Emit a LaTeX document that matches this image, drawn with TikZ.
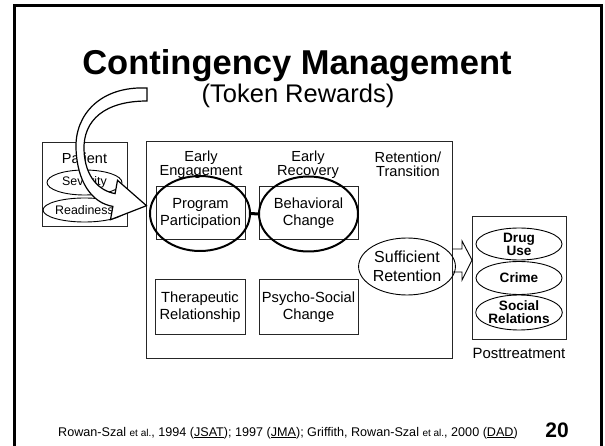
\documentclass[tikz,border=0pt]{standalone}
\usepackage{fontspec}
\setmainfont{Liberation Sans}
\usetikzlibrary{shapes.geometric}
\tikzset{
  panel/.style={draw=black!85, line width=1pt},
  head/.style={align=center, inner sep=0pt, font=\fontsize{14.6}{14}\selectfont},
  stagebox/.style={draw=black!85, line width=1pt, inner sep=0pt, align=center,
    minimum height=53pt, font=\fontsize{14.7}{17}\selectfont},
  ring/.style={ellipse, draw, line width=2pt, inner sep=0pt},
  oval/.style={ellipse, draw, line width=0.9pt, inner sep=0pt, align=center},
  outcome/.style={oval, minimum width=86pt, font=\bfseries\fontsize{13.6}{13}\selectfont},
}
\begin{document}
\begin{tikzpicture}[x=1pt,y=-1pt]
    \useasboundingbox (0,0) rectangle (605,446);
    \draw[line width=3pt] (14.5,448) -- (14.5,6) -- (601.5,6) -- (601.5,448);

    % title
    \node[font=\bfseries\fontsize{34.5}{40}\selectfont, anchor=base] (title) at (297,75) {Contingency Management};
    \node[font=\fontsize{25.5}{28}\selectfont, anchor=base] (subtitle) at (298,102.5) {(Token Rewards)};

    % patient
    \draw[panel] (42,143) rectangle (127,227);
    \node[head, font=\fontsize{14.5}{14}\selectfont] (patient) at (84.5,158) {Patient};
    \node[oval, minimum width=75pt, minimum height=25pt, font=\fontsize{12.4}{14}\selectfont] (severity) at (84.5,182.5) {Severity};
    \node[oval, minimum width=75pt, minimum height=24pt, font=\fontsize{12.4}{14}\selectfont] (readiness) at (84.5,210) {Readiness};

    % treatment stages
    \draw[panel] (146,142) rectangle (452,358);
    \node[head] (engage) at (201,164.5) {Early\\Engagement};
    \node[head] (recover) at (308,164.5) {Early\\Recovery};
    \node[head] (transit) at (408,164.5) {Retention/\\Transition};

    \node[stagebox, minimum width=89pt] (program) at (200.5,213.5) {Program\\Participation};
    \node[stagebox, minimum width=99pt] (behave) at (308.5,213.5) {Behavioral\\Change};
    \node[stagebox, minimum width=90pt, minimum height=54pt] (therapy) at (200,307) {Therapeutic\\Relationship};
    \node[stagebox, minimum width=99pt, minimum height=54pt] (psycho) at (308.5,307) {Psycho-Social\\Change};

    \node[ring, minimum width=100pt, minimum height=75pt] (programring) at (200,213.5) {};
    \node[ring, minimum width=99pt, minimum height=75pt] (behavering) at (308.5,214) {};
    \draw[line width=3pt] (programring.east) -- (behavering.west);

    \node[oval, minimum width=88pt, minimum height=57pt, font=\fontsize{16}{19}\selectfont] (retain) at (407,266.5) {Sufficient\\Retention};

    % posttreatment
    \draw[panel] (472,217) rectangle (566,339);
    \node[outcome, minimum height=32pt] (druguse) at (519,244) {Drug\\Use};
    \node[outcome, minimum height=33pt] (crime) at (519,278) {Crime};
    \node[outcome, minimum height=35pt] (social) at (519,312.5) {Social\\Relations};
    \node[font=\fontsize{14.9}{17}\selectfont] (post) at (519,353) {Posttreatment};

    \draw[line width=0.9pt, line join=miter] (452,249) -- (462,249) -- (462,241) -- (472,260)
        -- (462,280) -- (462,272) -- (452,272);

    % curved token arrow
    \draw[fill=white, line width=1.2pt, line join=miter]
        (147,88) .. controls (100,86) and (75,115) .. (76,148)
        .. controls (77,182) and (92,203) .. (112.9,206.4)
        -- (110.5,219.7) -- (146.5,205.7) -- (117.5,180.3) -- (115.1,193.6)
        .. controls (100,191) and (85,178) .. (84,150)
        .. controls (83,120) and (105,101) .. (147,101) -- cycle;

    % footer
    \node[font=\fontsize{12.6}{14}\selectfont, anchor=base] (refs) at (288,436)
        {Rowan-Szal {\fontsize{10}{11}\selectfont et al.}, 1994 (\underline{JSAT}); 1997 (\underline{JMA}); Griffith, Rowan-Szal {\fontsize{10}{11}\selectfont et al.}, 2000 (\underline{DAD})};
    \node[font=\bfseries\fontsize{21}{24}\selectfont, anchor=base] (page) at (557,437) {20};
\end{tikzpicture}
\end{document}
